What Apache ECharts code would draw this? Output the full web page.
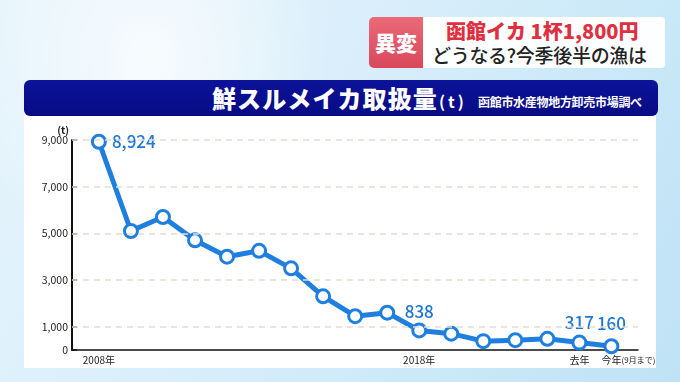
<!DOCTYPE html>
<html>
<head>
<meta charset="utf-8">
<script src="https://cdn.jsdelivr.net/npm/echarts@6/dist/echarts.min.js"></script>
<style>
  html, body { margin:0; padding:0; width:680px; height:382px; overflow:hidden; }
  body {
    position:relative;
    font-family: "Noto Sans CJK JP", "Noto Sans", sans-serif;
    background:
      radial-gradient(ellipse 260px 320px at 150px 60px, rgba(255,255,255,0.75), rgba(255,255,255,0) 70%),
      linear-gradient(120deg, #e6f4fc 0%, #d8eefa 45%, #c9e8f8 75%, #bfe2f5 100%);
  }
  .panel { position:absolute; left:24px; top:112px; width:632px; height:256px; background:#ffffff; }
  .titlebar {
    position:absolute; left:24px; top:80px; width:634px; height:36px;
    background:linear-gradient(180deg,#0d139a 0%,#070b84 100%);
    border-radius:6px;
  }
  .title {
    position:absolute; left:212px; top:79px; color:#fff; font-weight:900;
    font-size:24px; line-height:38px; white-space:nowrap; letter-spacing:1.1px;
  }
  .title small { font-size:16px; font-weight:700; margin-left:1px; letter-spacing:3px; }
  .sub {
    position:absolute; left:478px; top:92px; color:#fff; font-size:12px; line-height:20px;
    font-weight:700; white-space:nowrap; letter-spacing:-0.3px;
  }
  .tag {
    position:absolute; left:369px; top:17px; width:54px; height:51px;
    background:linear-gradient(180deg,#ea6a78 0%,#d9485a 100%);
    border-radius:5px 0 0 5px; color:#fff; font-weight:900; font-size:21px;
    line-height:51px; text-align:center;
  }
  .headbox {
    position:absolute; left:423px; top:17px; width:242px; height:51px;
    background:rgba(255,255,255,0.96); border-radius:0 4px 4px 0;
  }
  .h1 { position:absolute; left:446px; top:18px; color:#e0303f; font-weight:900; font-size:20px; line-height:26px; white-space:nowrap; }
  .h2 { position:absolute; left:432px; top:42px; color:#222; font-weight:500; font-size:19px; line-height:26px; white-space:nowrap; letter-spacing:-0.3px; }
  #chart { position:absolute; left:0; top:0; width:680px; height:382px; }
</style>
</head>
<body>
<div class="panel"></div>
<div class="titlebar"></div>
<div class="title">鮮スルメイカ取扱量<small>(t)</small></div>
<div class="sub">函館市水産物地方卸売市場調べ</div>
<div class="tag">異変</div>
<div class="headbox"></div>
<div class="h1">函館イカ 1杯1,800円</div>
<div class="h2">どうなる?今季後半の漁は</div>
<div id="chart"></div>
<script>
// ---- data ----
const categories = ['2008年','2009年','2010年','2011年','2012年','2013年','2014年','2015年','2016年','2017年','2018年','2019年','2020年','2021年','2022年','去年','今年(9月まで)'];
const values = [8924, 5100, 5700, 4700, 4000, 4250, 3500, 2300, 1450, 1600, 838, 700, 380, 420, 480, 317, 160];
const shownXLabels = [0, 10, 15];
const lastXLabel = [16];
const labelledPoints = [0, 10, 15, 16];
const yTicks = [0, 1000, 3000, 5000, 7000, 9000];
const gridLines = [1000, 3000, 5000, 7000, 9000];

const blue = '#1f7fe0';
const jpFont = '"Noto Sans CJK JP", sans-serif';
const labelDistance = { 0: 5, 10: 2, 15: 4, 16: 6 };

const seriesData = values.map((v, i) => {
  const item = { value: [i, v] };
  if (labelledPoints.includes(i)) {
    item.label = {
      show: true,
      position: i === 0 ? 'right' : 'top',
      distance: labelDistance[i],
      formatter: (p) => p.value[1].toLocaleString('en-US'),
      color: '#1f77d2',
      fontFamily: jpFont,
      fontWeight: 500,
      fontSize: 17
    };
  }
  return item;
});

const labelFormatter = (v) => {
  const s = categories[Math.round(v)];
  if (s && s.indexOf('(') > 0) {
    const k = s.indexOf('(');
    return '{s|}{a|' + s.slice(0, k) + '}{b|' + s.slice(k) + '}';
  }
  return s || '';
};
const labelRich = {
  s: { width: 34 },
  a: { fontSize: 10, color: '#222', fontFamily: jpFont },
  b: { fontSize: 8, color: '#222', fontFamily: jpFont }
};

const chart = echarts.init(document.getElementById('chart'), null, { renderer: 'canvas' });
chart.setOption({
  backgroundColor: 'transparent',
  animation: false,
  grid: { left: 72, right: 42, top: 140, bottom: 32 },
  xAxis: [{
    type: 'value',
    min: -0.84,
    max: 16.83,
    splitLine: { show: false },
    axisLine: { show: true, onZero: false, lineStyle: { color: '#111', width: 1.5 } },
    axisTick: { show: false },
    axisLabel: {
      customValues: shownXLabels,
      margin: 5, color: '#222', fontSize: 10, fontFamily: jpFont,
      formatter: labelFormatter, rich: labelRich
    }
  }, {
    type: 'value',
    min: -0.84,
    max: 16.83,
    position: 'bottom',
    splitLine: { show: false },
    axisLine: { show: false },
    axisTick: { show: false },
    axisLabel: {
      customValues: lastXLabel,
      margin: 5, color: '#222', fontSize: 10, fontFamily: jpFont,
      formatter: labelFormatter, rich: labelRich
    }
  }],
  yAxis: {
    type: 'value',
    min: 0,
    max: 9000,
    name: '(t)',
    nameLocation: 'end',
    nameGap: 4,
    nameTextStyle: { color: '#222', fontSize: 10, fontWeight: 'bold', align: 'right', padding: [0, 3, 0, 0], fontFamily: jpFont },
    splitLine: { show: false },
    axisLine: { show: true, onZero: false, lineStyle: { color: '#111', width: 2 } },
    axisTick: { show: true, inside: true, length: 5, customValues: yTicks, lineStyle: { color: '#111', width: 1.5 } },
    axisLabel: {
      customValues: yTicks,
      margin: 4, color: '#222', fontSize: 10.5, fontFamily: jpFont,
      formatter: (v) => v.toLocaleString('en-US')
    }
  },
  series: [
    {
      type: 'line',
      data: [],
      z: 1,
      silent: true,
      markLine: {
        silent: true,
        symbol: 'none',
        label: { show: false },
        lineStyle: { color: '#e3dbd2', type: [6, 5], width: 1.5 },
        data: gridLines.map(v => ({ yAxis: v }))
      }
    },
    {
      type: 'line',
      z: 3,
      data: seriesData,
      symbol: 'circle',
      symbolSize: 13,
      lineStyle: { color: blue, width: 5 },
      itemStyle: { color: '#fff', borderColor: blue, borderWidth: 3 },
      label: { show: false }
    }
  ]
});
</script>
</body>
</html>
